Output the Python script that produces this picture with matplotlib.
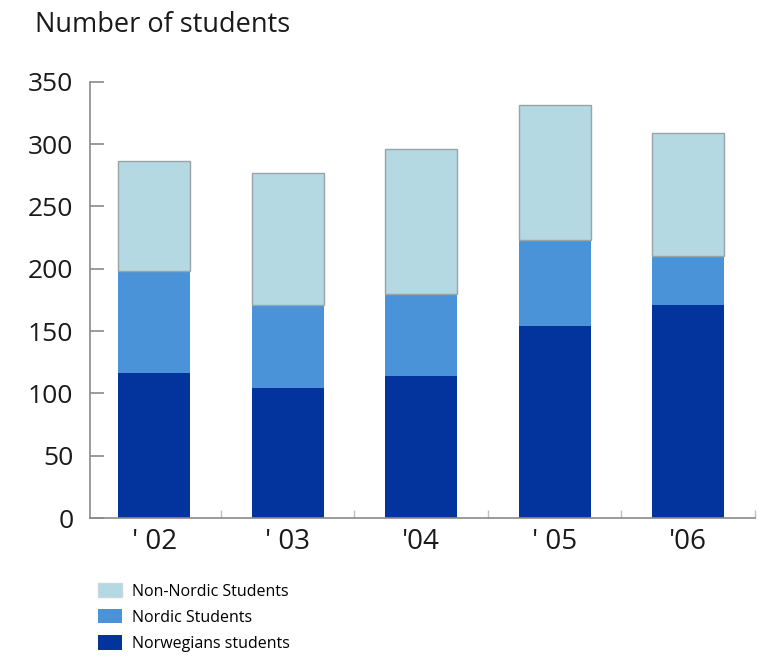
import matplotlib
matplotlib.use("Agg")
import matplotlib.pyplot as plt
from matplotlib.patches import Patch
import numpy as np

plt.rcParams['font.family'] = ['Open Sans', 'DejaVu Sans']

years = ["' 02", "' 03", "'04", "' 05", "'06"]
norwegian = [116, 104, 114, 154, 171]
nordic = [82, 67, 66, 69, 39]
non_nordic = [88, 106, 116, 108, 99]

labels = ["Non-Nordic Students", "Nordic Students", "Norwegians students"]
c_light = "#b4d9e3"
c_mid = "#4a93d8"
c_dark = "#03339c"

fig = plt.figure(figsize=(7.72, 6.63), dpi=100)
ax = fig.add_axes([90/772, 1-518/663, (755-90)/772, (518-81.7)/663])

x = np.arange(len(years))
w = 0.54
nor = np.array(norwegian)
nrd = np.array(nordic)
non = np.array(non_nordic)
ax.bar(x, nor, w, color=c_dark, edgecolor='none', zorder=2)
ax.bar(x, nrd, w, bottom=nor, color=c_mid, edgecolor='none', zorder=2)
ax.bar(x, non, w, bottom=nor+nrd, color=c_light, edgecolor='#9aa4a8', linewidth=1.0, zorder=2)

ax.set_xlim(-0.48, 4.5)
ax.set_ylim(0, 350)
ax.set_yticks(np.arange(0, 351, 50))
ax.set_xticks(x)
ax.set_xticklabels(years)
ax.set_xticks(x + 0.5, minor=True)

for s in ['top', 'right']:
    ax.spines[s].set_visible(False)
for s in ['left', 'bottom']:
    ax.spines[s].set_color('#8a8a8a')
    ax.spines[s].set_linewidth(1.2)

ax.tick_params(axis='y', direction='in', length=10, width=1.2, color='#8a8a8a',
               labelsize=19, pad=12, labelcolor='#1a1a1a')
ax.tick_params(axis='x', which='major', length=0, labelsize=20, pad=7, labelcolor='#1a1a1a')
ax.tick_params(axis='x', which='minor', direction='in', length=6, width=1.0, color='#c0c0c0')

fig.text(35/772, 1-25/663, "Number of students", fontsize=19.5, va='center', ha='left', color='#1a1a1a')

handles = [Patch(facecolor=c_light, edgecolor='#c8d8dc'),
           Patch(facecolor=c_mid, edgecolor='none'),
           Patch(facecolor=c_dark, edgecolor='none')]
fig.legend(handles, labels, loc='upper left', bbox_to_anchor=(98/772, 1-583/663),
           frameon=False, fontsize=11.5, handlelength=1.5, handleheight=1.0,
           labelspacing=0.6, handletextpad=0.6, borderaxespad=0, borderpad=0)

fig.savefig("out.png", dpi=100)
